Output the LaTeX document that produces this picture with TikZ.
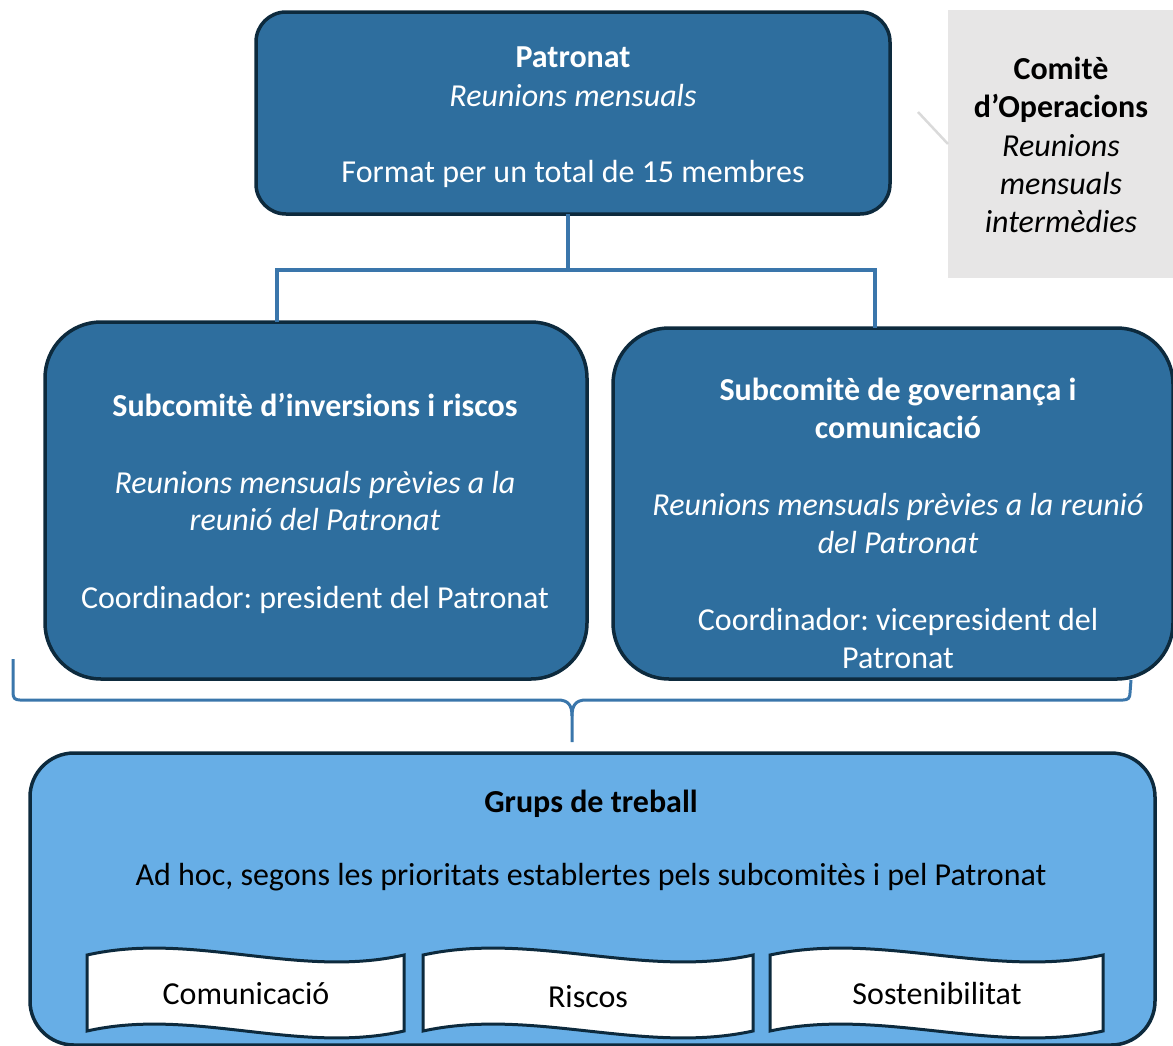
\documentclass[tikz,border=0pt]{standalone}
\usepackage{fontspec}
\setmainfont{Carlito}
\frenchspacing
\usetikzlibrary{calc}
\definecolor{boxblue}{HTML}{2E6E9E}
\definecolor{boxedge}{HTML}{0D2A3D}
\definecolor{connblue}{HTML}{3A76AB}
\definecolor{lightblue}{HTML}{67AEE6}
\definecolor{greybox}{HTML}{E7E6E6}
\definecolor{faintline}{HTML}{DADADA}
\newcommand\fs{\fontsize{32}{38}\selectfont}
\tikzset{
  darkbox/.style={draw=boxedge, fill=boxblue, line width=3.5pt, inner sep=0pt, outer sep=0pt},
  lightbox/.style={draw=boxedge, fill=lightblue, line width=3.5pt, inner sep=0pt, outer sep=0pt, rounded corners=44pt},
  greyrect/.style={fill=greybox, inner sep=0pt, outer sep=0pt},
  conn/.style={draw=connblue, line width=3.2pt},
  bracestyle/.style={draw=connblue, line width=3pt, line join=round},
  faint/.style={draw=faintline, line width=2.5pt},
  tapeline/.style={draw=boxedge, fill=white, line width=3pt},
  txt/.style={anchor=base, inner sep=0pt, font=\fs},
  wtxt/.style={txt, text=white},
  ktxt/.style={txt, text=black},
  bld/.style={font=\fs\bfseries},
  itl/.style={font=\fs\itshape},
}
\begin{document}
\begin{tikzpicture}[x=1pt,y=-1pt]
\useasboundingbox (0,0) rectangle (1173,1045);

% boxes
\node[darkbox, rounded corners=30pt, minimum width=634pt, minimum height=202pt] (P) at (573,113) {};
\node[greyrect, minimum width=226pt, minimum height=268pt] (C) at (1061,144) {};
\node[darkbox, rounded corners=56pt, minimum width=542pt, minimum height=357pt] (L) at (316,500.5) {};
\node[darkbox, rounded corners=56pt, minimum width=560pt, minimum height=351pt] (R) at (893,503.5) {};
\node[lightbox, minimum width=1125pt, minimum height=292pt] (G) at (592.5,899) {};

% connectors
\coordinate (faintstart) at (918,112);
\draw[faint] (faintstart) -- (C.west);
\draw[conn] (P.south -| 568,0) -- (568,270) coordinate (j);
\draw[conn] (L.north -| 277,0) |- (j) -| (R.north -| 875,0);

% brace
\coordinate (bl) at (13,659);
\coordinate (br) at (1131,680);
\coordinate (bt) at (572,742);
\draw[bracestyle] (bl) -- (13,693) .. controls (13,698) and (15,700) .. (20,700) -- (558,700)
  .. controls (568,700) and (572,705) .. (572,716) -- (bt);
\draw[bracestyle] (572,716) .. controls (572,705) and (576,700) .. (586,700) -- (1123,700)
  .. controls (1128,700) and (1130,698) .. (1130,693) -- (br);

% Patronat text
\node[wtxt, bld] (p1) at (573,67) {Patronat};
\node[wtxt, itl] (p2) at (573,106) {Reunions mensuals};
\node[wtxt] (p3) at (573,182) {Format per un total de 15 membres};

% Comite text
\node[ktxt, bld] (c1) at (1061,79) {Comitè};
\node[ktxt, bld] (c2) at (1061,117) {d’Operacions};
\node[ktxt, itl] (c3) at (1061,156) {Reunions};
\node[ktxt, itl] (c4) at (1061,194) {mensuals};
\node[ktxt, itl] (c5) at (1061,232) {intermèdies};

% Left text
\node[wtxt, bld] (l1) at (315,416) {Subcomitè d’inversions i riscos};
\node[wtxt, itl] (l2) at (315,493) {Reunions mensuals prèvies a la};
\node[wtxt, itl] (l3) at (315,530) {reunió del Patronat};
\node[wtxt] (l4) at (315,608) {Coordinador: president del Patronat};

% Right text
\node[wtxt, bld] (r1) at (898,400) {Subcomitè de governança i};
\node[wtxt, bld] (r2) at (898,438) {comunicació};
\node[wtxt, itl] (r3) at (898,515) {Reunions mensuals prèvies a la reunió};
\node[wtxt, itl] (r4) at (898,553) {del Patronat};
\node[wtxt] (r5) at (898,630) {Coordinador: vicepresident del};
\node[wtxt] (r6) at (898,668) {Patronat};

% Grups text
\node[ktxt, bld] (g1) at (591,812) {Grups de treball};
\node[ktxt] (g2) at (591,885) {Ad hoc, segons les prioritats establertes pels subcomitès i pel Patronat};

% tapes
\draw[tapeline] (87,955) .. controls (193,931) and (298,979) .. (404,955) -- (404,1031)
  .. controls (298,1055) and (193,1007) .. (87,1031) -- cycle;
\node[ktxt] (t1) at (246,1004) {Comunicació};
\draw[tapeline] (423,955) .. controls (533,931) and (643,979) .. (753,955) -- (753,1031)
  .. controls (643,1055) and (533,1007) .. (423,1031) -- cycle;
\node[ktxt] (t2) at (588,1007) {Riscos};
\draw[tapeline] (770,955) .. controls (881,931) and (992,979) .. (1103,955) -- (1103,1031)
  .. controls (992,1055) and (881,1007) .. (770,1031) -- cycle;
\node[ktxt] (t3) at (937,1004) {Sostenibilitat};
\end{tikzpicture}
\end{document}
